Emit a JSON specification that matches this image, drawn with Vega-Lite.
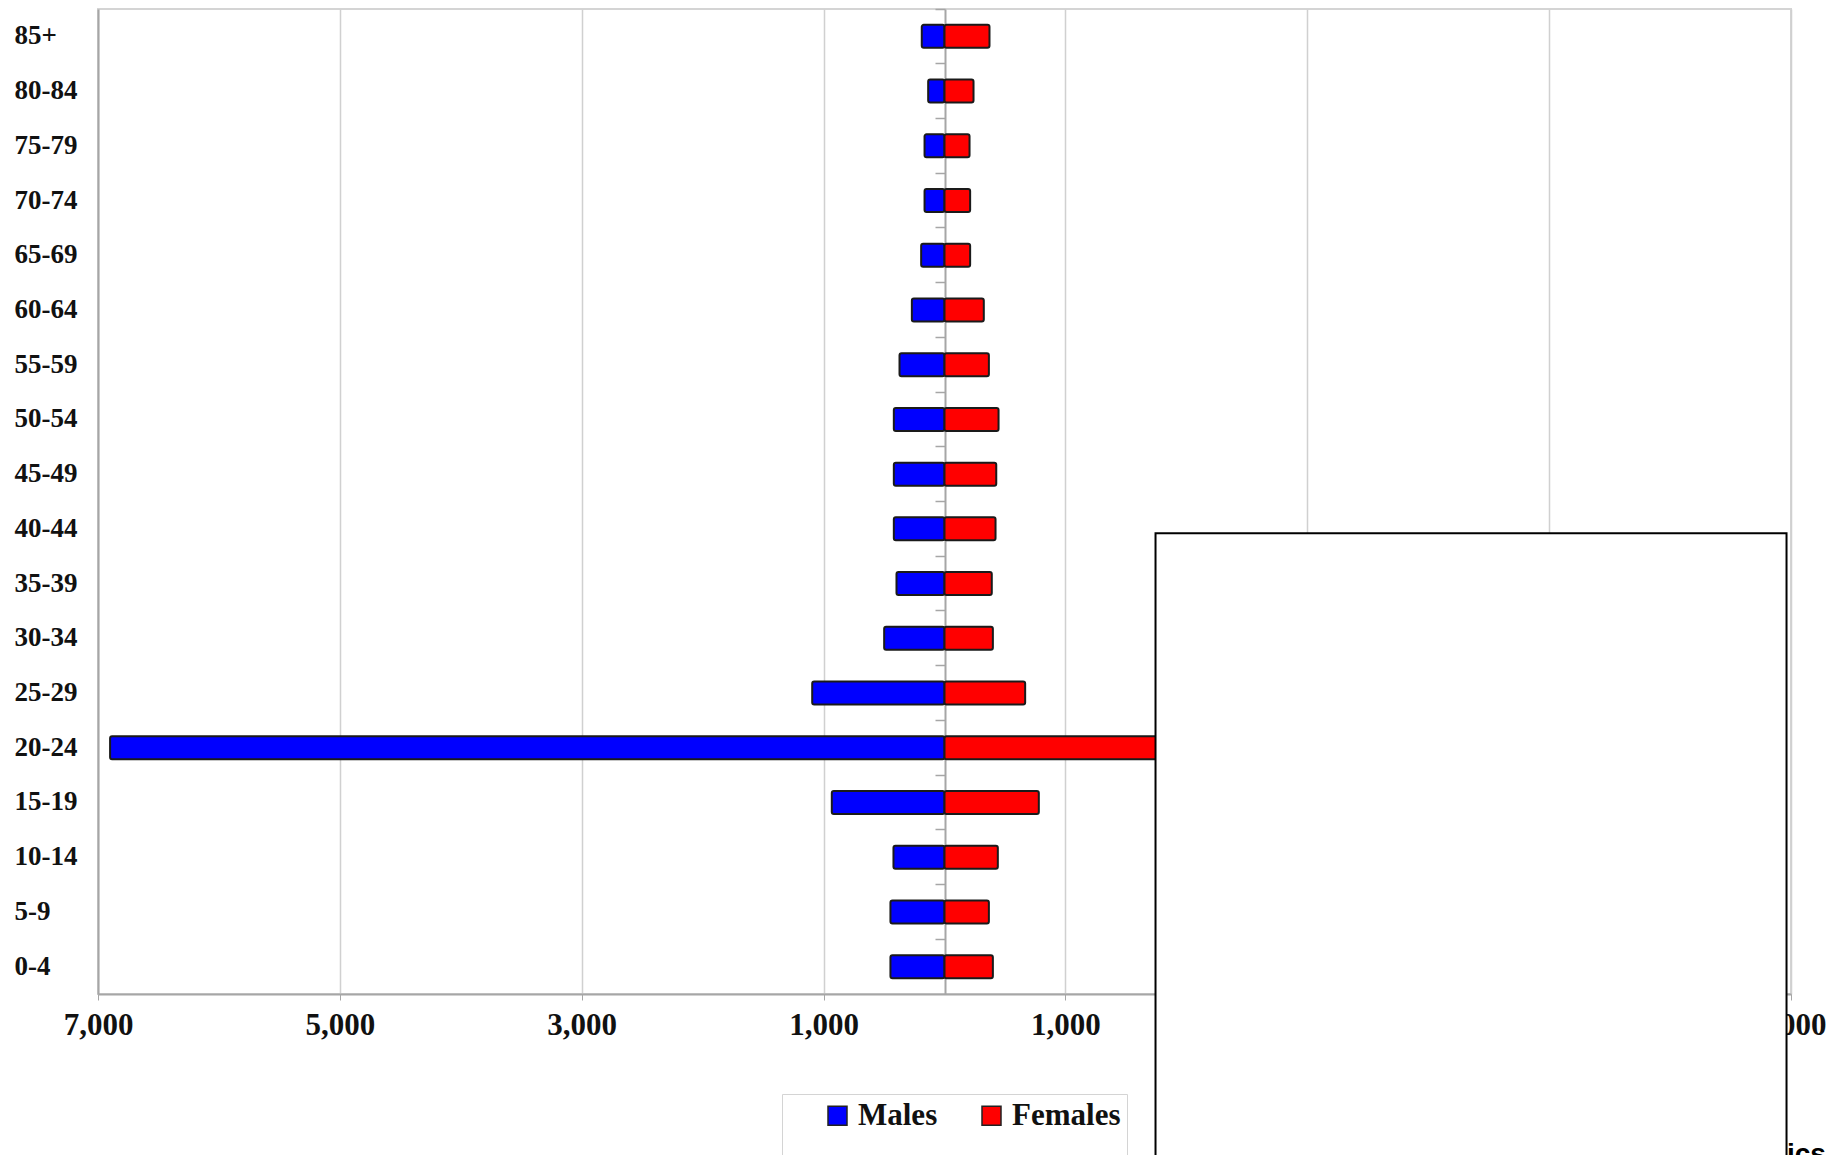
{
  "$schema": "https://vega.github.io/schema/vega-lite/v6.json",
  "width": 1693,
  "height": 985,
  "autosize": {"type": "none"},
  "padding": {"left": 98, "top": 9, "right": 40, "bottom": 161},
  "background": "white",
  "config": {
    "view": {"stroke": "#d4d4d4", "strokeWidth": 2},
    "font": "Liberation Serif"
  },
  "datasets": {
    "pop": [
      {"age": "85+", "sex": "Males", "value": -188}, {"age": "85+", "sex": "Females", "value": 372},
      {"age": "80-84", "sex": "Males", "value": -135}, {"age": "80-84", "sex": "Females", "value": 240},
      {"age": "75-79", "sex": "Males", "value": -165}, {"age": "75-79", "sex": "Females", "value": 207},
      {"age": "70-74", "sex": "Males", "value": -165}, {"age": "70-74", "sex": "Females", "value": 212},
      {"age": "65-69", "sex": "Males", "value": -193}, {"age": "65-69", "sex": "Females", "value": 212},
      {"age": "60-64", "sex": "Males", "value": -270}, {"age": "60-64", "sex": "Females", "value": 325},
      {"age": "55-59", "sex": "Males", "value": -372}, {"age": "55-59", "sex": "Females", "value": 367},
      {"age": "50-54", "sex": "Males", "value": -419}, {"age": "50-54", "sex": "Females", "value": 447},
      {"age": "45-49", "sex": "Males", "value": -419}, {"age": "45-49", "sex": "Females", "value": 428},
      {"age": "40-44", "sex": "Males", "value": -419}, {"age": "40-44", "sex": "Females", "value": 422},
      {"age": "35-39", "sex": "Males", "value": -397}, {"age": "35-39", "sex": "Females", "value": 391},
      {"age": "30-34", "sex": "Males", "value": -499}, {"age": "30-34", "sex": "Females", "value": 400},
      {"age": "25-29", "sex": "Males", "value": -1094}, {"age": "25-29", "sex": "Females", "value": 667},
      {"age": "20-24", "sex": "Males", "value": -6900}, {"age": "20-24", "sex": "Females", "value": 2500},
      {"age": "15-19", "sex": "Males", "value": -932}, {"age": "15-19", "sex": "Females", "value": 780},
      {"age": "10-14", "sex": "Males", "value": -422}, {"age": "10-14", "sex": "Females", "value": 441},
      {"age": "5-9", "sex": "Males", "value": -447}, {"age": "5-9", "sex": "Females", "value": 367},
      {"age": "0-4", "sex": "Males", "value": -447}, {"age": "0-4", "sex": "Females", "value": 400}
    ],
    "box": [{"x": 1745, "x2": 6963, "r": 9.58, "r2": 21.5}],
    "note": [{"x": 6966, "r": 21.09, "label": "ics"}]
  },
  "data": {"name": "pop"},
  "layer": [
    {
      "mark": {"type": "bar", "stroke": "#1a1a1a", "strokeWidth": 2, "cornerRadius": 2},
      "encoding": {
        "y": {
          "field": "age", "type": "nominal",
          "scale": {"domain": ["85+","80-84","75-79","70-74","65-69","60-64","55-59","50-54","45-49","40-44","35-39","30-34","25-29","20-24","15-19","10-14","5-9","0-4"], "paddingInner": 0.58, "paddingOuter": 0.29},
          "axis": {
            "orient": "left", "title": null, "ticks": false, "labelAlign": "left", "labelPadding": 84,
            "labelFont": "Liberation Serif", "labelFontSize": 27, "labelFontWeight": "bold", "labelColor": "#111",
            "domainColor": "#a6a6a6", "domainWidth": 2, "grid": false
          }
        },
        "x": {
          "field": "value", "type": "quantitative", "stack": null,
          "scale": {"domain": [-7000, 7000], "nice": false, "zero": false},
          "axis": {
            "title": null, "values": [-7000, -5000, -3000, -1000, 1000, 3000, 5000, 7000],
            "labelExpr": "format(abs(datum.value), ',')",
            "grid": true, "gridColor": "#d0d0d0", "gridWidth": 1.5,
            "domainColor": "#a6a6a6", "domainWidth": 2, "tickColor": "#a6a6a6", "tickSize": 6,
            "labelPadding": 10, "labelFont": "Liberation Serif", "labelFontSize": 31, "labelFontWeight": "bold",
            "labelColor": "#111", "labelFlush": false, "labelOverlap": false
          }
        },
        "color": {
          "field": "sex", "type": "nominal",
          "scale": {"domain": ["Males", "Females"], "range": ["#0000FF", "#FF0000"]},
          "legend": {
            "title": ["__", "__"], "titleOrient": "left", "titleFontSize": 31, "titleLineHeight": 40,
            "titleColor": "white", "titlePadding": 3,
            "orient": "none", "direction": "horizontal", "legendX": 684, "legendY": 1085,
            "padding": 6, "strokeColor": "#d4d4d4", "fillColor": "white",
            "symbolType": "square", "symbolSize": 361, "symbolStrokeColor": "#222", "symbolStrokeWidth": 1.5,
            "labelFont": "Liberation Serif", "labelFontSize": 31, "labelFontWeight": "bold", "labelColor": "#111",
            "labelOffset": 5, "columnPadding": 38
          }
        }
      }
    },
    {
      "mark": {"type": "bar", "opacity": 0},
      "encoding": {
        "y": {
          "field": "age", "type": "nominal",
          "scale": {"domain": ["85+","80-84","75-79","70-74","65-69","60-64","55-59","50-54","45-49","40-44","35-39","30-34","25-29","20-24","15-19","10-14","5-9","0-4"], "paddingInner": 0, "paddingOuter": 0},
          "axis": {
            "orient": "left", "offset": -847, "title": null, "labels": false, "ticks": true, "tickSize": 10,
            "tickColor": "#a6a6a6", "tickWidth": 1.5, "bandPosition": 0, "domainColor": "#a6a6a6", "domainWidth": 2, "grid": false
          }
        }
      }
    },
    {
      "layer": [
        {
          "data": {"name": "box"},
          "mark": {"type": "rect", "fill": "white", "stroke": "black", "strokeWidth": 2},
          "encoding": {
            "x": {"field": "x", "type": "quantitative"},
            "x2": {"field": "x2"},
            "y": {"field": "r", "type": "quantitative", "scale": {"domain": [0, 18], "reverse": true, "nice": false, "zero": false}, "axis": null},
            "y2": {"field": "r2"}
          }
        },
        {
          "data": {"name": "note"},
          "mark": {"type": "text", "align": "left", "baseline": "alphabetic", "font": "Liberation Sans", "fontSize": 28, "fontWeight": "bold", "color": "black"},
          "encoding": {
            "x": {"field": "x", "type": "quantitative"},
            "y": {"field": "r", "type": "quantitative", "scale": {"domain": [0, 18], "reverse": true, "nice": false, "zero": false}, "axis": null},
            "text": {"field": "label"}
          }
        }
      ]
    }
  ],
  "resolve": {"scale": {"y": "independent"}, "axis": {"y": "independent"}}
}
